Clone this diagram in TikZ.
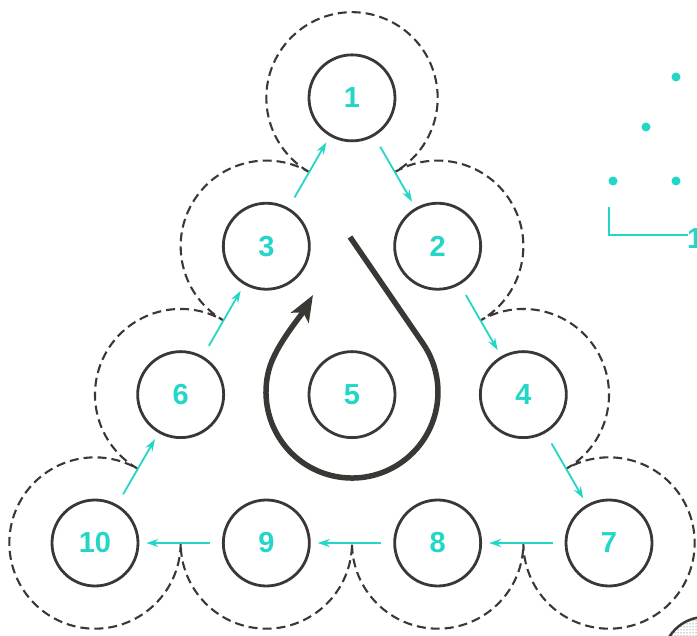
\documentclass[tikz,border=0pt]{standalone}
\usepackage{fontspec}
\setmainfont{Liberation Sans}
\usetikzlibrary{arrows.meta,patterns}
\definecolor{cy}{RGB}{35,214,198}
\definecolor{dk}{RGB}{58,56,53}
\begin{document}
\begin{tikzpicture}[x=1pt,y=1pt,
  num/.style={circle,draw=dk,line width=2.8pt,minimum size=86pt,inner sep=0pt,text=cy,
    font=\fontsize{29}{29}\selectfont\bfseries},
  flow/.style={draw=cy,line width=1.8pt,-{Stealth[length=12pt,width=8pt]},shorten <=12pt,shorten >=7pt},
  rim/.style={draw=dk,line width=2.1pt,dash pattern=on 9pt off 5pt},
  bigloop/.style={draw=dk,line width=5.5pt,-{Stealth[length=26pt,width=20pt,inset=6pt]}}]
\useasboundingbox (0,0) rectangle (697,-636);
% node centres (equilateral lattice)
\coordinate (c1) at (352,-97.86);
\coordinate (c2) at (437.67,-246.24);
\coordinate (c3) at (266.33,-246.24);
\coordinate (c4) at (523.33,-394.62);
\coordinate (c5) at (352,-394.62);
\coordinate (c6) at (180.67,-394.62);
\coordinate (c7) at (609,-543);
\coordinate (c8) at (437.67,-543);
\coordinate (c9) at (266.33,-543);
\coordinate (c10) at (95,-543);
\coordinate (m31) at (309.17,-172.05);
% dashed outline
\draw[rim] (m31)
  arc[start angle=-120,end angle=-420,radius=85.67]
  arc[start angle=-240,end angle=-420,radius=85.67]
  arc[start angle=-240,end angle=-420,radius=85.67]
  arc[start angle=-240,end angle=-540,radius=85.67]
  arc[start angle=0,end angle=-180,radius=85.67]
  arc[start angle=0,end angle=-180,radius=85.67]
  arc[start angle=0,end angle=-300,radius=85.67]
  arc[start angle=-120,end angle=-300,radius=85.67]
  arc[start angle=-120,end angle=-300,radius=85.67] -- cycle;
% nodes
\node[num] (n1) at (c1) {1};
\node[num] (n2) at (c2) {2};
\node[num] (n3) at (c3) {3};
\node[num] (n4) at (c4) {4};
\node[num] (n5) at (c5) {5};
\node[num] (n6) at (c6) {6};
\node[num] (n7) at (c7) {7};
\node[num] (n8) at (c8) {8};
\node[num] (n9) at (c9) {9};
\node[num] (n10) at (c10) {10};
% cyan arrows
\draw[flow] (n3) -- (n1);
\draw[flow] (n1) -- (n2);
\draw[flow] (n2) -- (n4);
\draw[flow] (n4) -- (n7);
\draw[flow] (n7) -- (n8);
\draw[flow] (n8) -- (n9);
\draw[flow] (n9) -- (n10);
\draw[flow] (n10) -- (n6);
\draw[flow] (n6) -- (n3);
% big loop arrow
\coordinate (ls) at (350,-237);
\coordinate (lt) at (313,-295);
\draw[bigloop] (ls) -- (422.9,-343.4)
  arc[start angle=34.44,end angle=-195,radius=86]
  .. controls (275.4,-345.5) and (301,-315.8) .. (lt);
% partial legend at top right
\fill[cy] (676,-77) circle (4.5);
\fill[cy] (646,-127) circle (4.5);
\fill[cy] (613,-181) circle (4.5);
\fill[cy] (676,-181) circle (4.5);
\coordinate (la) at (609,-207);
\coordinate (lb) at (688,-235);
\draw[cy,line width=2.5pt] (la) |- (lb);
\node[anchor=base west,inner sep=0pt,text=cy,font=\fontsize{29}{29}\selectfont\bfseries] (cut) at (687,-249) {1};
% partial dotted disc bottom right
\draw[dk,line width=2.5pt,pattern=dots,pattern color=dk] (705,-659) circle (42);
\end{tikzpicture}
\end{document}
